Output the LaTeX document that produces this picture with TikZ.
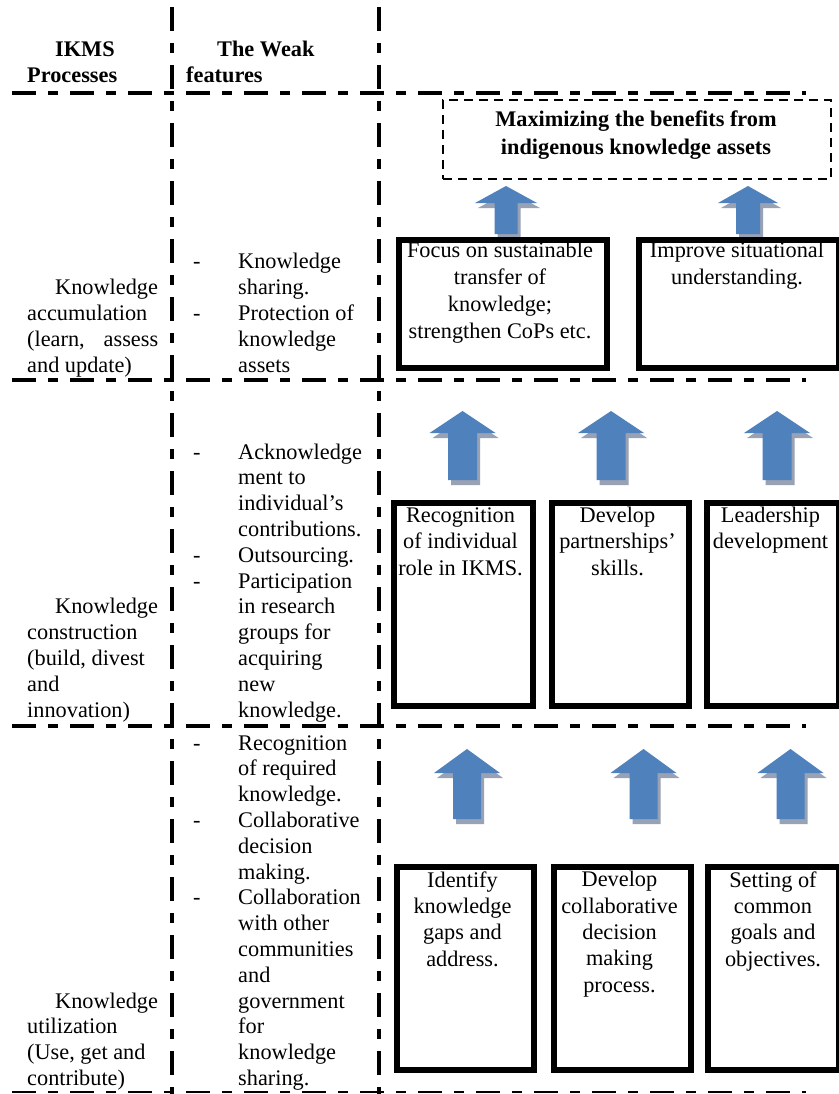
\documentclass[tikz,border=0pt]{standalone}
\usepackage{fontspec}
\setmainfont{Liberation Serif}
\usetikzlibrary{calc}

\definecolor{arrowblue}{RGB}{79,129,189}
\definecolor{arrowshade}{RGB}{152,162,180}

% upward block arrow with a soft drop shadow
% #1 centre x, #2 tip y, #3 head base y, #4 bottom y, #5 head half width, #6 shaft half width
\newcommand{\blockarrowup}[6]{%
  \fill[arrowshade, shift={(3,5)}] (#1,#2) -- (#1+#5,#3) -- (#1+#6,#3) -- (#1+#6,#4)
    -- (#1-#6,#4) -- (#1-#6,#3) -- (#1-#5,#3) -- cycle;
  \fill[arrowblue] (#1,#2) -- (#1+#5,#3) -- (#1+#6,#3) -- (#1+#6,#4)
    -- (#1-#6,#4) -- (#1-#6,#3) -- (#1-#5,#3) -- cycle;
}

% multi-line nodes below are placed by the baseline of their last line
\tikzset{
  gridline/.style={line width=4.5pt, dash pattern=on 24pt off 12pt on 10pt off 12pt},
  thingridline/.style={line width=2pt, dash pattern=on 24pt off 12pt on 10pt off 12pt},
  stepbox/.style={draw, line width=6pt, inner sep=0pt, anchor=north west},
  goalbox/.style={draw, line width=2pt, dash pattern=on 9pt off 6pt, inner sep=0pt, anchor=north west},
  boxtext/.style={font=\fontsize{22.3}{26.5}\selectfont, align=center, anchor=base, inner sep=0pt},
  celltext/.style={font=\fontsize{22.3}{25.8}\selectfont, align=left, anchor=base west, inner sep=0pt},
  headtext/.style={font=\fontsize{22.3}{26}\selectfont\bfseries, align=left, anchor=base west, inner sep=0pt},
}

\newcommand{\itemdash}{\makebox[45pt][l]{-}}
\newcommand{\itemcont}{\hspace*{45pt}}

\begin{document}
\begin{tikzpicture}[x=1pt, y=-1pt]
  \fill[white] (0,0) rectangle (838,1094);
  \useasboundingbox (0,0) rectangle (838,1094);

  % table grid
  \draw[gridline] (12,93) -- (806,93);
  \draw[gridline] (12,380) -- (806,380);
  \draw[gridline] (12,726) -- (806,726);
  \draw[thingridline] (12,1092) -- (806,1092);
  \draw[gridline] (172,7) -- (172,1094);
  \draw[gridline] (379,7) -- (379,1094);

  % column headers
  \node[headtext] (hproc) at (27,83) {\hspace*{28pt}IKMS\\Processes};
  \node[headtext] (hweak) at (186,83) {\hspace*{31pt}The Weak\\features};

  % row 1
  \node[celltext] (p1) at (27,372) {\hspace*{28pt}Knowledge\\accumulation\\\makebox[131pt][l]{(learn,\hfill assess}\\and update)};
  \node[celltext] (w1) at (193,372) {\itemdash Knowledge\\\itemcont sharing.\\\itemdash Protection of\\\itemcont knowledge\\\itemcont assets};

  % row 2
  \node[celltext] (p2) at (27,717) {\hspace*{28pt}Knowledge\\construction\\(build, divest\\and\\innovation)};
  \node[celltext] (w2) at (193,717) {\itemdash Acknowledge\\\itemcont ment to\\\itemcont individual’s\\\itemcont contributions.\\\itemdash Outsourcing.\\\itemdash Participation\\\itemcont in research\\\itemcont groups for\\\itemcont acquiring\\\itemcont new\\\itemcont knowledge.};

  % row 3
  \node[celltext] (p3) at (27,1085.5) {\hspace*{28pt}Knowledge\\utilization\\(Use, get and\\contribute)};
  \node[celltext] (w3) at (193,1085.5) {\itemdash Recognition\\\itemcont of required\\\itemcont knowledge.\\\itemdash Collaborative\\\itemcont decision\\\itemcont making.\\\itemdash Collaboration\\\itemcont with other\\\itemcont communities\\\itemcont and\\\itemcont government\\\itemcont for\\\itemcont knowledge\\\itemcont sharing.};

  % goal
  \node[goalbox, minimum width=388pt, minimum height=79pt] (goal) at (442,99) {};
  \node[boxtext, font=\fontsize{22.3}{28}\selectfont\bfseries] (goaltxt) at (636,155) {Maximizing the benefits from\\indigenous knowledge assets};

  % arrows
  \blockarrowup{506}{186}{203}{234}{31}{11.5}
  \blockarrowup{748}{186}{203}{234}{30}{12}
  \blockarrowup{462.5}{411}{433}{480}{33}{14.5}
  \blockarrowup{611}{411}{433}{480}{33}{14.5}
  \blockarrowup{777}{411}{433}{480}{33}{14.5}
  \blockarrowup{467}{749}{773}{819}{33}{14}
  \blockarrowup{643.5}{749}{773}{819}{33}{14}
  \blockarrowup{790.5}{749}{773}{819}{33}{14}

  % top row boxes
  \node[stepbox, minimum width=208pt, minimum height=128pt] (t1) at (396,237) {};
  \node[stepbox, minimum width=200pt, minimum height=128pt] (t2) at (636,237) {};
  \node[boxtext, font=\fontsize{22.3}{27}\selectfont] (t1txt) at (500,338) {Focus on sustainable\\transfer of\\knowledge;\\strengthen CoPs etc.};
  \node[boxtext, font=\fontsize{22.3}{27}\selectfont] (t2txt) at (737,284) {Improve situational\\understanding.};

  % middle row boxes
  \node[stepbox, minimum width=139pt, minimum height=203pt] (m1) at (391,500) {};
  \node[stepbox, minimum width=137pt, minimum height=203pt] (m2) at (549,500) {};
  \node[stepbox, minimum width=132pt, minimum height=203pt] (m3) at (704,500) {};
  \node[boxtext] (m1txt) at (460.5,575) {Recognition\\of individual\\role in IKMS.};
  \node[boxtext] (m2txt) at (617.5,575) {Develop\\partnerships’\\skills.};
  \node[boxtext] (m3txt) at (770.5,548.5) {Leadership\\development};

  % bottom row boxes
  \node[stepbox, minimum width=137pt, minimum height=203pt] (b1) at (394,864) {};
  \node[stepbox, minimum width=137pt, minimum height=203pt] (b2) at (551,864) {};
  \node[stepbox, minimum width=131pt, minimum height=203pt] (b3) at (705,864) {};
  \node[boxtext, font=\fontsize{22.3}{26.3}\selectfont] (b1txt) at (462.5,966) {Identify\\knowledge\\gaps and\\address.};
  \node[boxtext, font=\fontsize{22.3}{26.3}\selectfont] (b2txt) at (619.5,992) {Develop\\collaborative\\decision\\making\\process.};
  \node[boxtext, font=\fontsize{22.3}{26.3}\selectfont] (b3txt) at (773,966) {Setting of\\common\\goals and\\objectives.};
\end{tikzpicture}
\end{document}
